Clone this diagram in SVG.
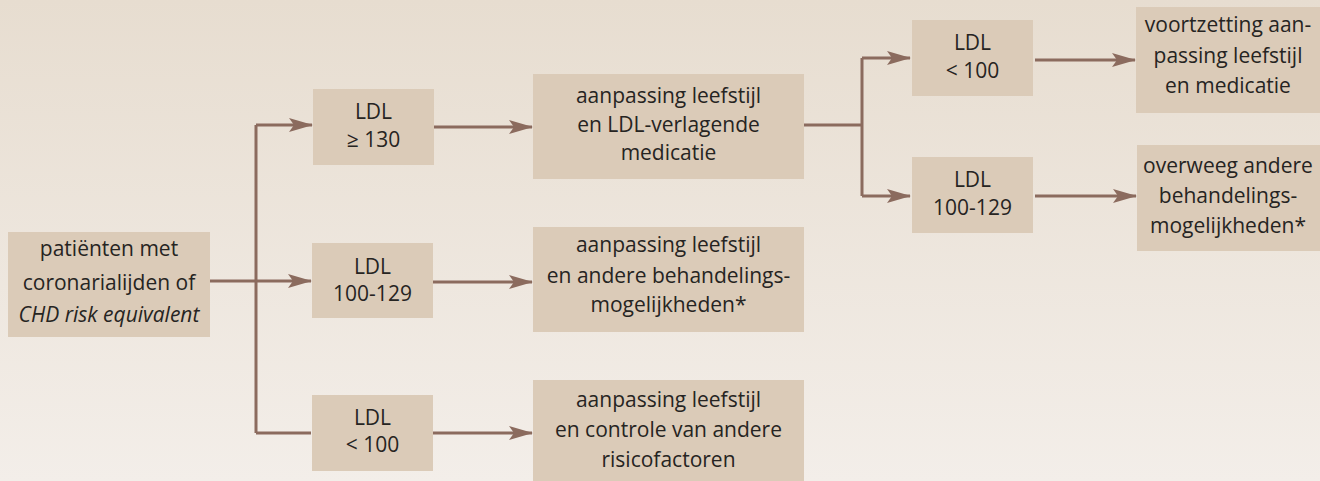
<svg xmlns="http://www.w3.org/2000/svg" width="1320" height="481" viewBox="0 0 1320 481">
<defs>
<linearGradient id="bg" x1="0" y1="0" x2="0" y2="1">
<stop offset="0" stop-color="#e7ddd0"/>
<stop offset="1" stop-color="#f3eee9"/>
</linearGradient>
<marker id="arr" markerUnits="userSpaceOnUse" viewBox="0 0 24 14" refX="23" refY="7" markerWidth="24" markerHeight="14" orient="auto">
<path d="M0,0 L24,7 L0,14 L5,7 Z" fill="#8b6b5e"/>
</marker>
<style>
.box{fill:#dbcbb8}
.t{font-family:"Open Sans","Liberation Sans",sans-serif;font-size:21px;fill:#262422;text-anchor:middle}
.i{font-style:italic}
.c{fill:none;stroke:#8b6b5e;stroke-width:3}
</style>
</defs>
<rect x="0" y="0" width="1320" height="481" fill="url(#bg)"/>

<g id="connectors">
<path class="c" d="M210,281 H311" marker-end="url(#arr)"/>
<path class="c" d="M256,125 V433"/>
<path class="c" d="M256,125 H312" marker-end="url(#arr)"/>
<path class="c" d="M256,433 H311"/>
<path class="c" d="M434,127 H532" marker-end="url(#arr)"/>
<path class="c" d="M433,282 H532" marker-end="url(#arr)"/>
<path class="c" d="M433,433 H532" marker-end="url(#arr)"/>
<path class="c" d="M804,125 H862"/>
<path class="c" d="M862,58 V196"/>
<path class="c" d="M862,58 H910" marker-end="url(#arr)"/>
<path class="c" d="M862,196 H910" marker-end="url(#arr)"/>
<path class="c" d="M1035,60 H1135" marker-end="url(#arr)"/>
<path class="c" d="M1035,196 H1136" marker-end="url(#arr)"/>
</g>

<g id="source">
<rect class="box" x="8" y="232" width="202" height="105"/>
<text class="t" x="109" y="256">patiënten met</text>
<text class="t" x="109" y="290">coronarialijden of</text>
<text class="t i" x="109" y="322">CHD risk equivalent</text>
</g>

<g id="ldl130">
<rect class="box" x="313" y="89" width="121" height="76"/>
<text class="t" x="373.5" y="119">LDL</text>
<text class="t" x="373.5" y="147">≥ 130</text>
</g>

<g id="ldl100129">
<rect class="box" x="312" y="243" width="121" height="75"/>
<text class="t" x="372.5" y="274">LDL</text>
<text class="t" x="372.5" y="301">100-129</text>
</g>

<g id="ldl100">
<rect class="box" x="312" y="395" width="121" height="76"/>
<text class="t" x="372.5" y="425">LDL</text>
<text class="t" x="372.5" y="452">&lt; 100</text>
</g>

<g id="act1">
<rect class="box" x="533" y="74" width="271" height="105"/>
<text class="t" x="668.5" y="103">aanpassing leefstijl</text>
<text class="t" x="668.5" y="132">en LDL-verlagende</text>
<text class="t" x="668.5" y="160">medicatie</text>
</g>

<g id="act2">
<rect class="box" x="533" y="227" width="271" height="105"/>
<text class="t" x="668.5" y="252">aanpassing leefstijl</text>
<text class="t" x="668.5" y="283">en andere behandelings-</text>
<text class="t" x="668.5" y="312">mogelijkheden*</text>
</g>

<g id="act3">
<rect class="box" x="533" y="380" width="271" height="105"/>
<text class="t" x="668.5" y="407">aanpassing leefstijl</text>
<text class="t" x="668.5" y="437">en controle van andere</text>
<text class="t" x="668.5" y="467">risicofactoren</text>
</g>

<g id="rldl100">
<rect class="box" x="912" y="20" width="121" height="76"/>
<text class="t" x="972.5" y="50">LDL</text>
<text class="t" x="972.5" y="78">&lt; 100</text>
</g>

<g id="rldl100129">
<rect class="box" x="912" y="157" width="121" height="76"/>
<text class="t" x="972.5" y="187">LDL</text>
<text class="t" x="972.5" y="215">100-129</text>
</g>

<g id="res1">
<rect class="box" x="1136" y="7" width="184" height="106"/>
<text class="t" x="1228" y="32">voortzetting aan-</text>
<text class="t" x="1228" y="63">passing leefstijl</text>
<text class="t" x="1228" y="93">en medicatie</text>
</g>

<g id="res2">
<rect class="box" x="1137" y="145" width="183" height="106"/>
<text class="t" x="1228" y="173">overweeg andere</text>
<text class="t" x="1228" y="203">behandelings-</text>
<text class="t" x="1228" y="233">mogelijkheden*</text>
</g>
</svg>
